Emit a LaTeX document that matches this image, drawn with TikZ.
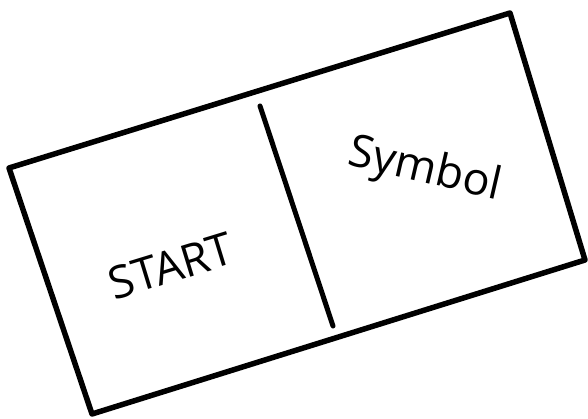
\documentclass[tikz,border=0pt]{standalone}
\usepackage{fontspec}
\setsansfont{Open Sans}
\usetikzlibrary{calc}
\tikzset{edge/.style={line width=5.5pt, line join=round, line cap=round},
  divider/.style={line width=5pt, line cap=round},
  lbl/.style={font=\sffamily\fontsize{45}{48}\selectfont, inner sep=0pt}}

\begin{document}
\begin{tikzpicture}[x=1pt, y=1pt]
  \useasboundingbox (0,0) rectangle (588,419);
  % corners of the card
  \coordinate (tl) at (9,251);
  \coordinate (tr) at (510,406);
  \coordinate (br) at (585,159);
  \coordinate (bl) at (92,5);
  \draw[edge] (tl) -- (tr) -- (br) -- (bl) -- cycle;
  % middle line
  \coordinate (dtop) at (260,313);
  \coordinate (dbot) at (333,93);
  \draw[divider] (dtop) -- (dbot);
  % texts
  \node[lbl, rotate=17] (start) at (171,153) {START};
  \node[lbl, rotate=-13] (symbol) at (425,248) {Symbol};
\end{tikzpicture}
\end{document}
